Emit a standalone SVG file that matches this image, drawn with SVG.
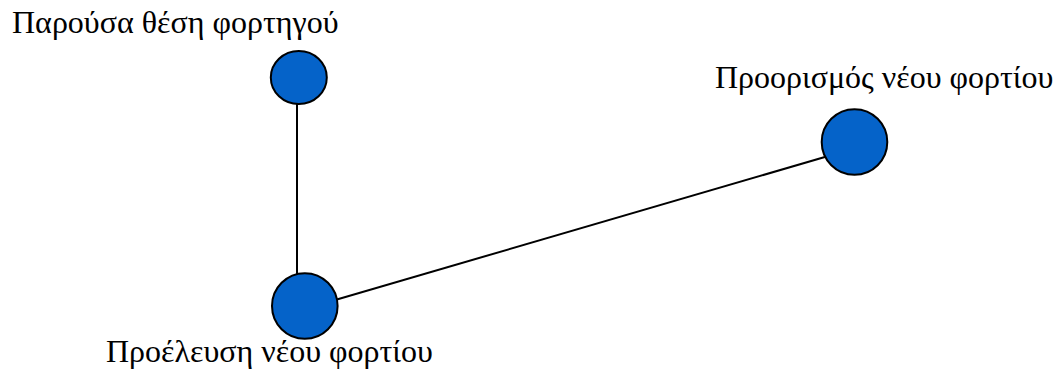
<svg xmlns="http://www.w3.org/2000/svg" width="1057" height="374" viewBox="0 0 1057 374">
<style>
.node{fill:#0563C9;stroke:#000;stroke-width:2}
.lbl{font-family:"Liberation Serif","Times New Roman",serif;font-size:32px;fill:#000}
.edge{stroke:#000;stroke-width:2;fill:none}
</style>
<rect width="1057" height="374" fill="#fff"/>
<g id="connectors">
<line class="edge" x1="297" y1="100" x2="297" y2="280"/>
<line class="edge" x1="330" y1="301.5" x2="830" y2="155.5"/>
</g>
<g id="node-current">
<ellipse class="node" cx="298.8" cy="77.5" rx="28" ry="26.5"/>
<text class="lbl" x="12" y="33">Παρούσα θέση φορτηγού</text>
</g>
<g id="node-destination">
<circle class="node" cx="854.5" cy="142" r="32.8"/>
<text class="lbl" x="715" y="88">Προορισμός νέου φορτίου</text>
</g>
<g id="node-origin">
<circle class="node" cx="304.8" cy="306" r="32.8"/>
<text class="lbl" x="106" y="362">Προέλευση νέου φορτίου</text>
</g>
</svg>
